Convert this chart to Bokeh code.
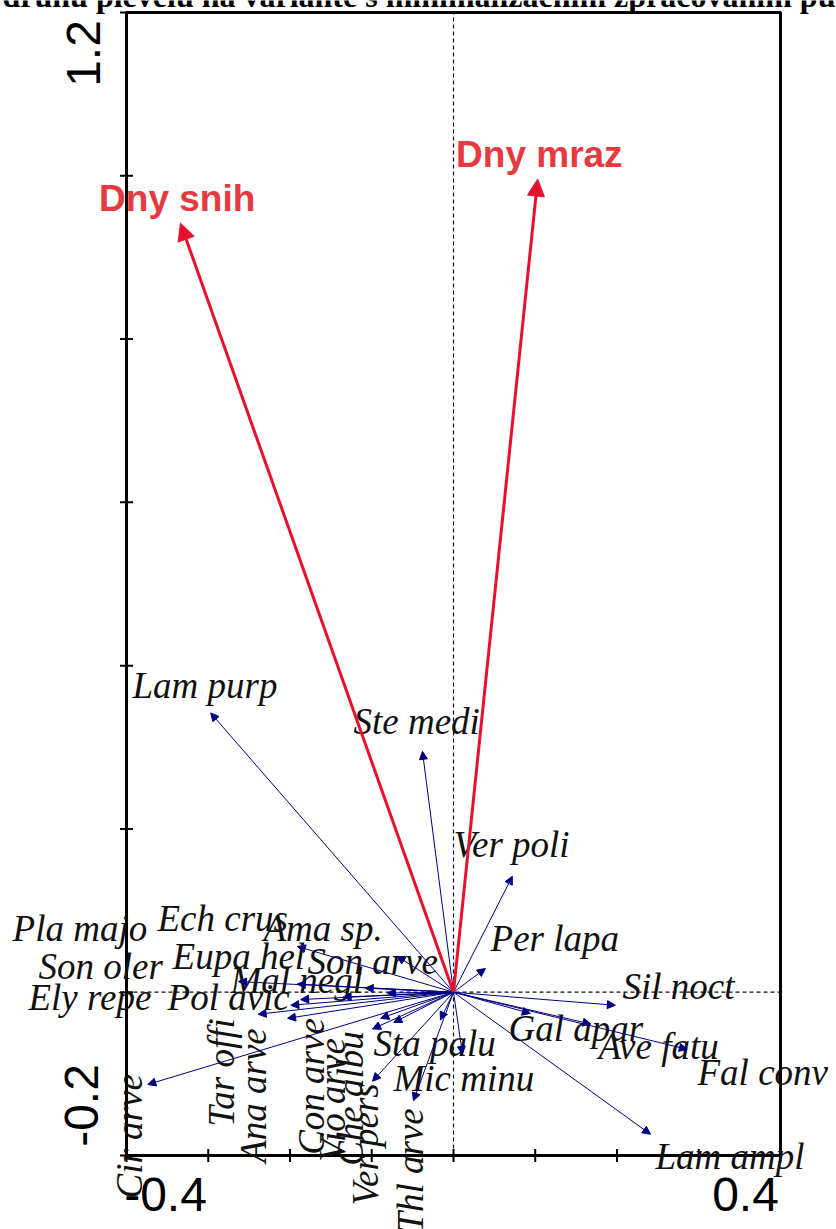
import math
from bokeh.plotting import figure
from bokeh.models import ColumnDataSource, Arrow, NormalHead
from bokeh.core.properties import value
from bokeh.embed import file_html
from bokeh.resources import INLINE

# ---------------- data ----------------
title_text = "druhů plevelů na variantě s minimalizačním zpracováním půdy"

species = ["Lam purp", "Ste medi", "Ver poli", "Per lapa", "Sil noct", "Gal apar",
           "Ave fatu", "Fal conv", "Lam ampl", "Cir arve", "Thl arve", "Ver pers",
           "Mic minu", "Sta palu", "Che albu", "Vio arve", "Con arve", "Ana arve",
           "Tar offi", "Pol avic", "Ely repe", "Mal negl", "Son oler", "Pla majo",
           "Eupa hel", "Son arve", "Ech crus", "Ama sp."]
# species scores (arrow tips)
sp_x = [-0.297, -0.038, 0.072, 0.039, 0.198, 0.094,
        0.168, 0.286, 0.241, -0.374, -0.049, -0.099,
        0.011, -0.016, -0.099, -0.073, -0.089, -0.203,
        -0.239, -0.199, -0.187, -0.135, -0.191, -0.263,
        -0.108, -0.081, -0.191, -0.069]
sp_y = [0.342, 0.295, 0.142, 0.029, -0.016, -0.026,
        -0.039, -0.070, -0.174, -0.113, -0.133, -0.109,
        -0.076, -0.034, -0.045, -0.037, -0.032, -0.032,
        -0.027, -0.016, -0.009, -0.006, 0.010, 0.013,
        0.005, -0.001, 0.056, 0.044]
# label anchor positions (as placed in the diagram)
sp_lab_x = [-0.3927, -0.1223, 0.0000, 0.0453, 0.2067, 0.0673,
            0.1774, 0.2985, 0.2471, -0.3792, -0.0355, -0.0905,
            -0.0734, -0.0979, -0.1089, -0.1309, -0.1566, -0.2275,
            -0.2667, -0.3498, -0.5199, -0.2728, -0.5076, -0.5394,
            -0.3437, -0.1786, -0.3621, -0.2324]
sp_lab_y = [0.3576, 0.3135, 0.1629, 0.0478, -0.0110, -0.0625,
            -0.0845, -0.1163, -0.2192, -0.1004, -0.1421, -0.1115,
            -0.1237, -0.0808, -0.0478, -0.0563, -0.0318, -0.0441,
            -0.0318, -0.0245, -0.0245, -0.0037, 0.0135, 0.0600,
            0.0257, 0.0196, 0.0723, 0.0600]
sp_vertical = [False, False, False, False, False, False,
               False, False, False, True, True, True,
               False, False, True, True, True, True,
               True, False, False, False, False, False,
               False, False, False, False]

env = ["Dny snih", "Dny mraz"]
env_x = [-0.334, 0.103]
env_y = [0.942, 0.996]
env_lab_x = [-0.338, 0.105]
env_lab_y = [0.954, 1.009]

x_ticks = [-0.4, -0.3, -0.2, -0.1, 0.0, 0.1, 0.2, 0.3, 0.4]
y_ticks = [-0.2, 0.0, 0.2, 0.4, 0.6, 0.8, 1.0, 1.2]
x_tick_labels = ["-0.4", "0.4"]
y_tick_labels = ["1.2", "-0.2"]

# ---------------- layout / scales ----------------
W, H = 836, 1229
box_l, box_r, box_t, box_b = 126, 780, 12, 1155   # pixel placement of the plot box
x_min, x_max, y_min, y_max = x_ticks[0], x_ticks[-1], y_ticks[0], y_ticks[-1]
sx = (box_r - box_l) / (x_max - x_min)
sy = (box_b - box_t) / (y_max - y_min)
x0r = x_min - box_l / sx
x1r = x_max + (W - box_r) / sx
y0r = y_min - (H - box_b) / sy
y1r = y_max + box_t / sy
BASE_FIX = 0.39   # renderer places the alphabetic baseline this many em too low


def px_x(px):
    return x0r + px / sx


def px_y(py):
    return y1r - py / sy


def up(fs):      # data shift that lifts a horizontal text's baseline into place
    return BASE_FIX * fs / sy


def left(fs):    # the same for text turned by 90 degrees
    return BASE_FIX * fs / sx


p = figure(width=W, height=H, x_range=(x0r, x1r), y_range=(y0r, y1r),
           output_backend="svg", toolbar_location=None,
           x_axis_location=None, y_axis_location=None,
           min_border=0, min_border_left=0, min_border_right=0,
           min_border_top=0, min_border_bottom=0)
p.grid.visible = False
p.outline_line_color = None
p.background_fill_color = "white"
p.border_fill_color = "white"

# dashed zero lines inside the box
p.segment(x0=[0.0, x_min], y0=[y_min, 0.0], x1=[0.0, x_max], y1=[y_max, 0.0],
          line_color="#111111", line_width=1.2, line_dash="4 3")

# plot box and tick marks
p.quad(left=x_min, right=x_max, bottom=y_min, top=y_max,
       fill_color=None, line_color="black", line_width=3)
p.dash(x=x_ticks, y=[y_min] * len(x_ticks), size=13, angle=math.pi / 2,
       line_color="black", line_width=2)
p.dash(x=[x_min] * len(y_ticks), y=y_ticks, size=13,
       line_color="black", line_width=2)

# axis numbers (placed as in the original, inside the tick span)
NUM_FS = 48
num = dict(text_font=value("Liberation Sans"), text_font_size=value(f"{NUM_FS}px"),
           text_color="black", text_align=value("center"),
           text_baseline=value("alphabetic"))
p.text(x=[px_x(165), px_x(745)], y=[px_y(1213) + up(NUM_FS)] * 2, text=x_tick_labels, **num)
p.text(x=[px_x(102) - left(NUM_FS), px_x(100) - left(NUM_FS)],
       y=[px_y(53), px_y(1105)], text=y_tick_labels, angle=math.pi / 2, **num)

# species arrows
n = len(species)
sp_src = ColumnDataSource(dict(x0=[0.0] * n, y0=[0.0] * n, x1=sp_x, y1=sp_y))
p.add_layout(Arrow(end=NormalHead(size=8, fill_color="#000080", line_color="#000080",
                                  line_width=1),
                   x_start="x0", y_start="y0", x_end="x1", y_end="y1",
                   source=sp_src, line_color="#000080", line_width=1))

# environmental arrows
m = len(env)
ENV_FS = 37
env_src = ColumnDataSource(dict(x0=[0.0] * m, y0=[0.0] * m, x1=env_x, y1=env_y,
                                lx=env_lab_x, ly=[v + up(ENV_FS) for v in env_lab_y],
                                name=env))
p.add_layout(Arrow(end=NormalHead(size=17, fill_color="#e8112d", line_color="#e8112d",
                                  line_width=1),
                   x_start="x0", y_start="y0", x_end="x1", y_end="y1",
                   source=env_src, line_color="#e8112d", line_width=3))

# species labels
LAB_FS = 37
h_idx = [i for i in range(n) if not sp_vertical[i]]
v_idx = [i for i in range(n) if sp_vertical[i]]
h_src = ColumnDataSource(dict(x=[sp_lab_x[i] for i in h_idx],
                              y=[sp_lab_y[i] + up(LAB_FS) for i in h_idx],
                              name=[species[i] for i in h_idx]))
v_src = ColumnDataSource(dict(x=[sp_lab_x[i] - left(LAB_FS) for i in v_idx],
                              y=[sp_lab_y[i] for i in v_idx],
                              name=[species[i] for i in v_idx]))
lab = dict(text_font=value("Liberation Serif"), text_font_style=value("italic"),
           text_font_size=value(f"{LAB_FS}px"), text_color="#111111",
           text_baseline=value("alphabetic"))
p.text(x="x", y="y", text="name", source=h_src, text_align=value("left"), **lab)
p.text(x="x", y="y", text="name", source=v_src, angle=math.pi / 2,
       text_align=value("right"), **lab)

# env labels
p.text(x="lx", y="ly", text="name", source=env_src,
       text_font=value("Liberation Sans"), text_font_style=value("bold"),
       text_font_size=value(f"{ENV_FS}px"), text_color="#e53a40",
       text_align=value("center"), text_baseline=value("alphabetic"))

# title (cut off at the top edge as in the original)
TITLE_FS = 32
p.text(x=[px_x(2)], y=[px_y(8) + up(TITLE_FS)], text=[title_text],
       text_font=value("Liberation Serif"), text_font_style=value("bold"),
       text_font_size=value(f"{TITLE_FS}px"), text_color="black",
       text_align=value("left"), text_baseline=value("alphabetic"))

open("out.html", "w").write(file_html(p, INLINE))
